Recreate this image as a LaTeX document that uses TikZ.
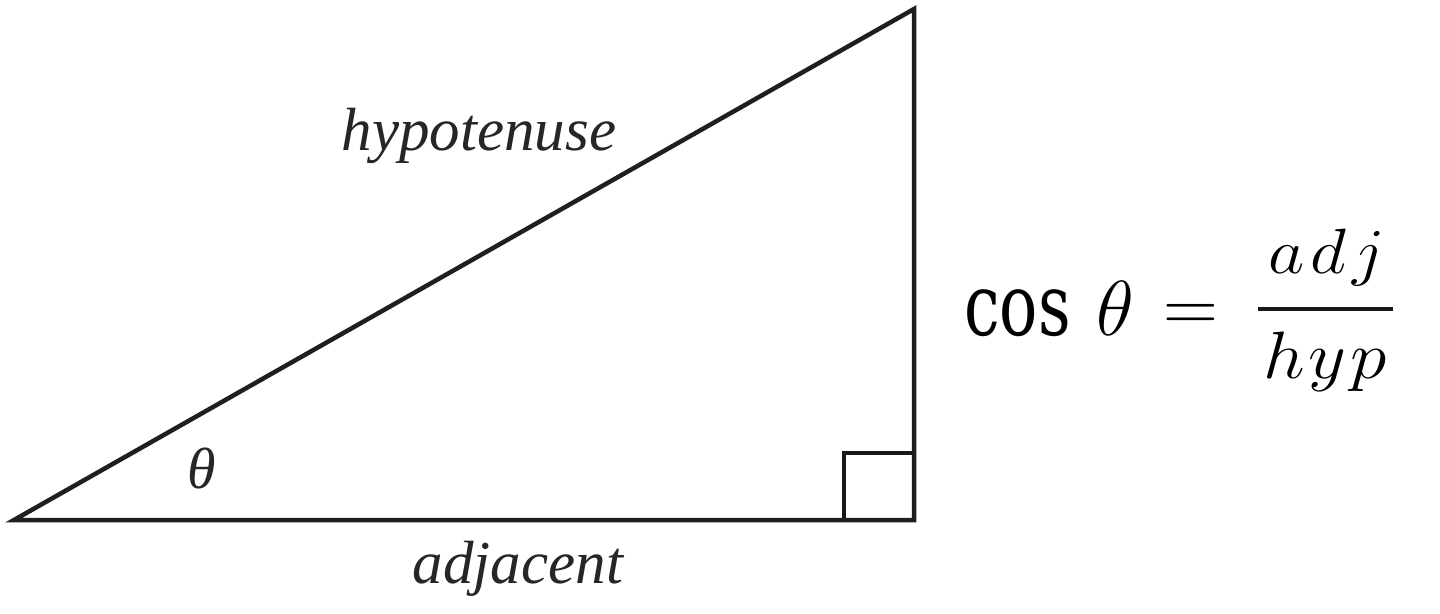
\RequirePackage{fix-cm}
\documentclass[tikz,border=0pt]{standalone}
\usepackage[no-math]{fontspec}
\setmainfont{Liberation Serif}
\newfontfamily\cosfont{DejaVu Serif}
\usepackage{graphicx}
\begin{document}
\begin{tikzpicture}[x=1pt,y=-1pt,
  edge/.style={line width=4.5pt,line join=miter,black!88},
  rmark/.style={line width=3.5pt,black!90},
  lab/.style={inner sep=0pt,anchor=base,font=\fontsize{61}{61}\selectfont\itshape,text=black!85},
  piece/.style={inner sep=0pt,anchor=base}]
\useasboundingbox (0,0) rectangle (1440,613);
\coordinate (A) at (14,520);
\coordinate (B) at (914,520);
\coordinate (C) at (914,9);
\coordinate (R1) at (844,520);
\coordinate (R2) at (844,453);
\coordinate (R3) at (914,453);
\draw[rmark] (R1) -- (R2) -- (R3);
\draw[edge] (A) -- (B) -- (C) -- cycle;
\node[lab] (hyp) at (479,150) {hypotenuse};
\node[lab] (adj) at (518,583) {adjacent};
\node[lab,font=\fontsize{58}{58}\selectfont\itshape] (th) at (202,488) {θ};
% formula
\node[piece,anchor=base west] (cos) at (964,335) {\scalebox{0.74}[1]{\fontsize{86}{86}\cosfont cos}};
\node[piece,anchor=base west] (theta) at (1096,335) {\fontsize{78}{78}\selectfont$\theta$};
\node[piece,anchor=base west] (eq) at (1163,331) {\fontsize{76}{76}\selectfont$=$};
\coordinate (b1) at (1258,309);
\coordinate (b2) at (1393,309);
\draw[line width=4pt,black!90] (b1) -- (b2);
\node[piece] (num) at (1327,273) {\scalebox{1.1}[1]{\fontsize{64}{64}\selectfont$a\mkern1.5mu d\mkern1.5mu j$}};
\node[piece] (den) at (1325,378) {\scalebox{1.1}[1]{\fontsize{67}{67}\selectfont$h\mkern1mu y\mkern1mu p$}};
\end{tikzpicture}
\end{document}
